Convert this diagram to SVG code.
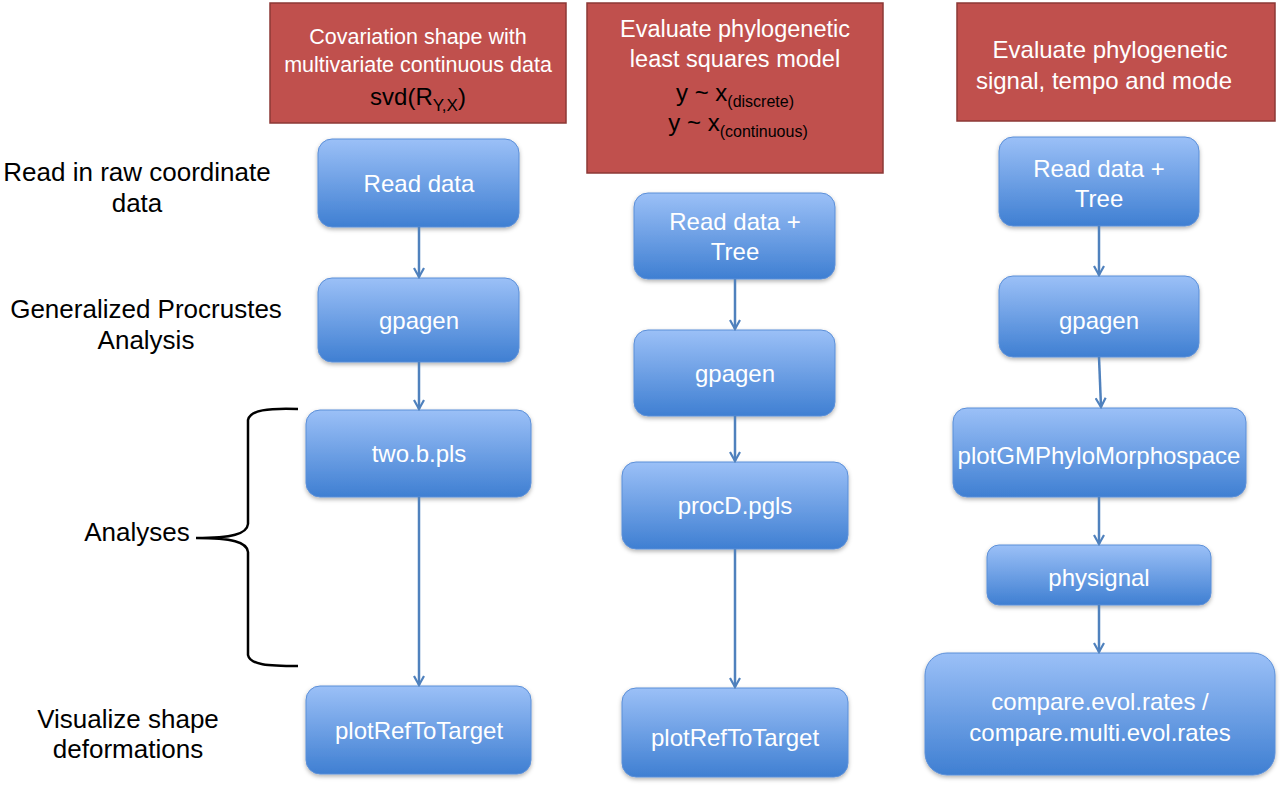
<svg xmlns="http://www.w3.org/2000/svg" width="1280" height="787" viewBox="0 0 1280 787">
<defs>
<linearGradient id="blue" x1="0" y1="0" x2="0" y2="1">
<stop offset="0" stop-color="#9bc0f7"/>
<stop offset="1" stop-color="#3f7fd2"/>
</linearGradient>
<filter id="sh" x="-10%" y="-10%" width="120%" height="130%">
<feDropShadow dx="0" dy="2" stdDeviation="2" flood-color="#000" flood-opacity="0.3"/>
</filter>
<marker id="arr" viewBox="0 0 12 12" refX="10" refY="6" markerWidth="12" markerHeight="12" markerUnits="userSpaceOnUse" orient="auto">
<path d="M1,1 L10,6 L1,11" fill="none" stroke="#4f81bd" stroke-width="2.2"/>
</marker>
</defs>
<style>
.red{fill:#c0504d;stroke:#8c3836;stroke-width:1.5}
.blue{fill:url(#blue);stroke:#5b8fd8;stroke-width:1;filter:url(#sh)}
.wt{font-family:"Liberation Sans",Arial,sans-serif;fill:#fff;text-anchor:middle}
.bx{font-size:24px}
.bt{font-family:"Liberation Sans",Arial,sans-serif;fill:#000;text-anchor:middle}
.lbl{font-family:"Liberation Sans",Arial,sans-serif;fill:#000;text-anchor:middle;font-size:26px}
.conn{stroke:#4f81bd;stroke-width:2.5;fill:none;marker-end:url(#arr)}
</style>
<rect width="1280" height="787" fill="#fff"/>

<g id="header1">
<rect class="red" x="270" y="3" width="296" height="120"/>
<text class="wt" x="418" y="44" font-size="21.5">Covariation shape with</text>
<text class="wt" x="418" y="72" font-size="21.5">multivariate continuous data</text>
<text class="bt" x="418" y="105" font-size="24">svd(R<tspan font-size="17" dy="6">Y,X</tspan><tspan dy="-6">)</tspan></text>
</g>
<g id="header2">
<rect class="red" x="587" y="3" width="296" height="170"/>
<text class="wt" x="735" y="37" font-size="23.5">Evaluate phylogenetic</text>
<text class="wt" x="735" y="67" font-size="23.5">least squares model</text>
<text class="bt" x="735" y="101" font-size="24">y ~ x<tspan font-size="16" dy="6">(discrete)</tspan></text>
<text class="bt" x="738" y="131" font-size="24">y ~ x<tspan font-size="16" dy="6">(continuous)</tspan></text>
</g>
<g id="header3">
<rect class="red" x="957" y="3" width="318" height="118"/>
<text class="wt" x="1110" y="58" font-size="24">Evaluate phylogenetic</text>
<text class="wt" x="1104" y="89" font-size="24">signal, tempo and mode</text>
</g>

<g id="label-read"><text class="lbl" x="137" y="181">Read in raw coordinate</text><text class="lbl" x="137" y="212">data</text></g>
<g id="label-gpa"><text class="lbl" x="146" y="318">Generalized Procrustes</text><text class="lbl" x="146" y="349">Analysis</text></g>
<g id="label-analyses"><text class="lbl" x="137" y="541">Analyses</text>
<path d="M298,409 C268,408 250,410 248,420 L248,524 C247,534 232,538 196,538 C232,538 247,542 248,552 L248,655 C250,665 268,666 298,666" fill="none" stroke="#000" stroke-width="2.5"/></g>
<g id="label-vis"><text class="lbl" x="128" y="728">Visualize shape</text><text class="lbl" x="128" y="758">deformations</text></g>

<g id="c1-read"><rect class="blue" x="318" y="139" width="201" height="88" rx="14"/><text class="wt bx" x="419" y="192">Read data</text></g>
<g id="c1-gpagen"><rect class="blue" x="318" y="278" width="201" height="84" rx="14"/><text class="wt bx" x="419" y="329">gpagen</text></g>
<g id="c1-pls"><rect class="blue" x="306" y="410" width="225" height="87" rx="14"/><text class="wt bx" x="419" y="462">two.b.pls</text></g>
<g id="c1-plot"><rect class="blue" x="306" y="686" width="225" height="88" rx="14"/><text class="wt bx" x="419" y="739">plotRefToTarget</text></g>

<g id="c2-read"><rect class="blue" x="634" y="193" width="201" height="86" rx="14"/><text class="wt bx" x="735" y="230">Read data +</text><text class="wt bx" x="735" y="260">Tree</text></g>
<g id="c2-gpagen"><rect class="blue" x="634" y="330" width="201" height="86" rx="14"/><text class="wt bx" x="735" y="382">gpagen</text></g>
<g id="c2-procd"><rect class="blue" x="622" y="462" width="226" height="87" rx="14"/><text class="wt bx" x="735" y="514">procD.pgls</text></g>
<g id="c2-plot"><rect class="blue" x="622" y="688" width="226" height="89" rx="14"/><text class="wt bx" x="735" y="746">plotRefToTarget</text></g>

<g id="c3-read"><rect class="blue" x="999" y="137" width="200" height="89" rx="14"/><text class="wt bx" x="1099" y="177">Read data +</text><text class="wt bx" x="1099" y="207">Tree</text></g>
<g id="c3-gpagen"><rect class="blue" x="999" y="276" width="200" height="81" rx="14"/><text class="wt bx" x="1099" y="329">gpagen</text></g>
<g id="c3-morpho"><rect class="blue" x="953" y="408" width="293" height="89" rx="14"/><text class="wt bx" x="1099" y="464">plotGMPhyloMorphospace</text></g>
<g id="c3-physignal"><rect class="blue" x="987" y="545" width="224" height="60" rx="12"/><text class="wt bx" x="1099" y="586">physignal</text></g>
<g id="c3-compare"><rect class="blue" x="925" y="653" width="350" height="122" rx="22"/><text class="wt bx" x="1100" y="710">compare.evol.rates /</text><text class="wt bx" x="1100" y="741">compare.multi.evol.rates</text></g>

<g id="connectors">
<line class="conn" x1="419" y1="227" x2="419" y2="277"/>
<line class="conn" x1="419" y1="362" x2="419" y2="409"/>
<line class="conn" x1="419" y1="497" x2="419" y2="685"/>
<line class="conn" x1="735" y1="279" x2="735" y2="329"/>
<line class="conn" x1="735" y1="416" x2="735" y2="461"/>
<line class="conn" x1="735" y1="549" x2="735" y2="687"/>
<line class="conn" x1="1099" y1="226" x2="1099" y2="275"/>
<line class="conn" x1="1099" y1="357" x2="1101" y2="407"/>
<line class="conn" x1="1099" y1="497" x2="1099" y2="544"/>
<line class="conn" x1="1099" y1="605" x2="1099" y2="652"/>
</g>
</svg>
